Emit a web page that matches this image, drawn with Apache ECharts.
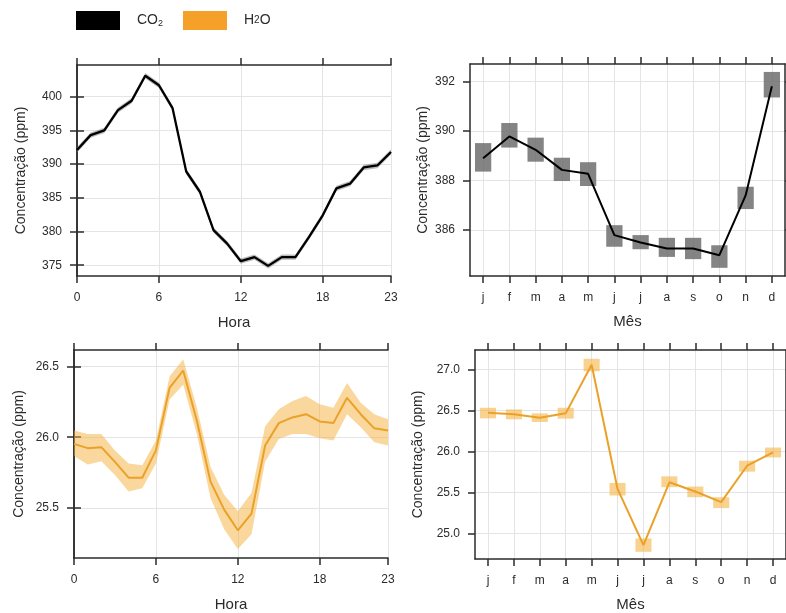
<!DOCTYPE html>
<html>
<head>
<meta charset="utf-8">
<script src="https://cdn.jsdelivr.net/npm/echarts@6/dist/echarts.min.js"></script>
<style>
html,body{margin:0;padding:0;background:#fff;}
#chart{width:786px;height:613px;}
</style>
</head>
<body>
<div id="chart"></div>
<script>
// ---------- data ----------
const hours = [0,1,2,3,4,5,6,7,8,9,10,11,12,13,14,15,16,17,18,19,20,21,22,23];
const hourTicks = [0,6,12,18,23];
const months = ['j','f','m','a','m','j','j','a','s','o','n','d'];

const co2Hour = [392.1,394.3,395.0,398.0,399.4,403.1,401.7,398.3,388.9,385.9,380.2,378.2,375.6,376.2,374.9,376.2,376.2,379.2,382.4,386.4,387.1,389.5,389.8,391.8];
const co2HourLower = [391.7,393.9,394.6,397.6,399.0,402.7,401.3,397.9,388.5,385.5,379.8,377.8,375.2,375.8,374.5,375.8,375.8,378.8,382.0,386.0,386.7,389.1,389.4,391.4];
const co2HourUpper = [392.5,394.7,395.4,398.4,399.8,403.5,402.1,398.7,389.3,386.3,380.6,378.6,376.0,376.6,375.3,376.6,376.6,379.6,382.8,386.8,387.5,389.9,390.2,392.2];
const co2HourTicks = [375,380,385,390,395,400];

const co2Month = [388.9,389.78,389.24,388.43,388.27,385.8,385.5,385.26,385.26,384.99,387.4,391.8];
const co2MonthLower = [388.36,389.33,388.76,387.98,387.78,385.33,385.23,384.92,384.83,384.48,386.85,391.35];
const co2MonthUpper = [389.51,390.32,389.73,388.92,388.74,386.20,385.80,385.69,385.69,385.39,387.75,392.38];
const co2MonthTicks = [386,388,390,392];

const h2oHour = [25.953,25.923,25.93,25.826,25.714,25.714,25.907,26.349,26.472,26.116,25.686,25.488,25.342,25.46,25.942,26.1,26.14,26.163,26.112,26.1,26.279,26.163,26.063,26.047];
const h2oHourLower = [25.867,25.807,25.830,25.733,25.616,25.640,25.814,26.267,26.372,26.023,25.570,25.349,25.209,25.314,25.826,25.988,26.023,26.023,25.993,25.977,26.163,26.070,25.965,25.942];
const h2oHourUpper = [26.047,26.023,26.023,25.907,25.814,25.802,25.977,26.430,26.551,26.209,25.791,25.593,25.477,25.605,26.077,26.198,26.256,26.291,26.233,26.209,26.384,26.244,26.163,26.128];
const h2oHourTicks = [25.5,26.0,26.5];

const h2oMonth = [26.475,26.455,26.414,26.467,27.06,25.545,24.859,25.626,25.513,25.384,25.828,25.99];
const h2oMonthLower = [26.406,26.394,26.362,26.402,26.98,25.465,24.778,25.566,25.444,25.311,25.756,25.929];
const h2oMonthUpper = [26.535,26.515,26.467,26.535,27.133,25.618,24.94,25.699,25.574,25.444,25.889,26.05];
const h2oMonthTicks = [25.0,25.5,26.0,26.5,27.0];

// ---------- styles ----------
const DARK = '#2b2b2b';
const GRIDC = '#e2e4e8';
const ORANGE = '#EBA128';
const FONT = 'Liberation Sans, Arial, sans-serif';

const grids = [
  {left: 77, top: 65, width: 314, height: 211},
  {left: 470, top: 64, width: 315, height: 212},
  {left: 74, top: 350, width: 314, height: 211},
  {left: 475, top: 350, width: 312, height: 211}
];

const axisLineS = {show: true, lineStyle: {color: DARK, width: 1.5}};
const tickS = (vals) => { const t = {show: true, inside: false, length: 7, lineStyle: {color: DARK, width: 1.5}}; if (vals) t.customValues = vals; return t; };
const labelX = {color: DARK, fontSize: 12, fontFamily: FONT, margin: 16};
const labelY = {color: DARK, fontSize: 12, fontFamily: FONT, margin: 15};
const nameS = {color: DARK, fontSize: 14, fontFamily: FONT};

function hourX(gi) {
  return [
    {type: 'value', gridIndex: gi, min: 0, max: 23, interval: 6, position: 'bottom',
     name: 'Hora', nameLocation: 'middle', nameGap: 39, nameTextStyle: Object.assign({}, nameS, {fontSize: 15}),
     axisLine: axisLineS, axisTick: tickS(hourTicks),
     axisLabel: Object.assign({}, labelX, {customValues: hourTicks}),
     splitLine: {show: true, lineStyle: {color: GRIDC, width: 1}}},
    {type: 'value', gridIndex: gi, min: 0, max: 23, interval: 6, position: 'top',
     axisLine: axisLineS, axisTick: tickS(hourTicks), axisLabel: {show: false}, splitLine: {show: false}}
  ];
}
function monthX(gi) {
  return [
    {type: 'category', gridIndex: gi, data: months, boundaryGap: true, position: 'bottom',
     name: 'Mês', nameLocation: 'middle', nameGap: 38, nameTextStyle: Object.assign({}, nameS, {fontSize: 15}),
     axisLine: axisLineS, axisTick: Object.assign(tickS(), {alignWithLabel: true}),
     axisLabel: Object.assign({}, labelX, {interval: 0}),
     splitLine: {show: true, alignWithLabel: true, interval: 0, lineStyle: {color: GRIDC, width: 1}}},
    {type: 'category', gridIndex: gi, data: months, boundaryGap: true, position: 'top',
     axisLine: axisLineS, axisTick: Object.assign(tickS(), {alignWithLabel: true, interval: 0}), axisLabel: {show: false}, splitLine: {show: false}}
  ];
}
function yAx(gi, min, max, interval, ticks, dec, gap) {
  return [
    {type: 'value', gridIndex: gi, min: min, max: max, interval: interval, position: 'left',
     name: 'Concentração (ppm)', nameLocation: 'middle', nameGap: gap, nameTextStyle: nameS,
     axisLine: axisLineS, axisTick: tickS(ticks),
     axisLabel: Object.assign({}, labelY, {customValues: ticks, formatter: v => Number(v).toFixed(dec)}),
     splitLine: {show: true, lineStyle: {color: GRIDC, width: 1}}},
    {type: 'value', gridIndex: gi, min: min, max: max, interval: interval, position: 'right',
     axisLine: axisLineS, axisTick: tickS(ticks), axisLabel: {show: false}, splitLine: {show: false}}
  ];
}

const xAxes = [].concat(hourX(0), monthX(1), hourX(2), monthX(3));
const yAxes = [].concat(
  yAx(0, 373.4, 404.7, 5, co2HourTicks, 0, 49),
  yAx(1, 384.15, 392.7, 2, co2MonthTicks, 0, 40),
  yAx(2, 25.146, 26.617, 0.5, h2oHourTicks, 1, 48),
  yAx(3, 24.69, 27.24, 0.5, h2oMonthTicks, 1, 50)
);

// band drawn as one polygon through the axis scales
function bandSeries(key, xi, yi, lower, upper, color) {
  return {
    name: key, type: 'custom', xAxisIndex: xi, yAxisIndex: yi, silent: true, z: 1,
    data: hours.map((h, i) => [h, lower[i], upper[i]]),
    encode: {x: 0, y: [1, 2]},
    renderItem: function (params, api) {
      if (params.dataIndex !== 0) return null;
      const pts = [];
      for (let i = 0; i < hours.length; i++) pts.push(api.coord([hours[i], upper[i]]));
      for (let i = hours.length - 1; i >= 0; i--) pts.push(api.coord([hours[i], lower[i]]));
      return {type: 'polygon', shape: {points: pts}, style: {fill: color}};
    }
  };
}
function rectSeries(key, xi, yi, lower, upper, color) {
  return {
    name: key, type: 'custom', xAxisIndex: xi, yAxisIndex: yi, silent: true, z: 1,
    data: months.map((m, i) => [i, lower[i], upper[i]]),
    encode: {x: 0, y: [1, 2]},
    renderItem: function (params, api) {
      const x = api.value(0);
      const pTop = api.coord([x, api.value(2)]);
      const pBot = api.coord([x, api.value(1)]);
      const w = api.size([1, 0])[0] * 0.62;
      return {type: 'rect', shape: {x: pTop[0] - w / 2, y: pTop[1], width: w, height: pBot[1] - pTop[1]},
              style: {fill: color}};
    }
  };
}

const series = [
  bandSeries('co2b', 0, 0, co2HourLower, co2HourUpper, 'rgba(120,120,120,0.5)'),
  {name: 'CO2', type: 'line', xAxisIndex: 0, yAxisIndex: 0, symbol: 'none', z: 3,
   lineStyle: {color: '#000', width: 2.3}, itemStyle: {color: '#000'},
   data: hours.map((h, i) => [h, co2Hour[i]])},
  rectSeries('co2r', 2, 2, co2MonthLower, co2MonthUpper, 'rgba(110,110,110,0.85)'),
  {name: 'co2m', type: 'line', xAxisIndex: 2, yAxisIndex: 2, symbol: 'none', z: 3,
   lineStyle: {color: '#000', width: 2}, data: co2Month},
  bandSeries('h2ob', 4, 4, h2oHourLower, h2oHourUpper, 'rgba(246,178,60,0.5)'),
  {name: 'H2O', type: 'line', xAxisIndex: 4, yAxisIndex: 4, symbol: 'none', z: 3,
   lineStyle: {color: ORANGE, width: 2}, itemStyle: {color: ORANGE},
   data: hours.map((h, i) => [h, h2oHour[i]])},
  rectSeries('h2or', 6, 6, h2oMonthLower, h2oMonthUpper, 'rgba(247,180,70,0.6)'),
  {name: 'h2om', type: 'line', xAxisIndex: 6, yAxisIndex: 6, symbol: 'none', z: 3,
   lineStyle: {color: ORANGE, width: 2}, data: h2oMonth}
];

const chart = echarts.init(document.getElementById('chart'), null, {renderer: 'canvas'});
chart.setOption({
  backgroundColor: '#ffffff',
  animation: false,
  textStyle: {fontFamily: FONT},
  legend: {
    left: 71, top: 6, orient: 'horizontal', icon: 'rect', itemWidth: 44, itemHeight: 19, itemGap: 20,
    selectedMode: false,
    data: [{name: 'CO2', itemStyle: {color: '#000'}}, {name: 'H2O', itemStyle: {color: '#F5A028'}}],
    formatter: n => n === 'CO2' ? 'CO{sub|2}' : 'H{sm|2}O',
    textStyle: {color: DARK, fontSize: 14, fontFamily: FONT, padding: [0, 0, 0, 12],
      rich: {sub: {fontSize: 9, color: DARK, fontFamily: FONT, padding: [7, 0, 0, 0]},
             sm: {fontSize: 10, color: DARK, fontFamily: FONT}}}
  },
  grid: grids,
  xAxis: xAxes,
  yAxis: yAxes,
  series: series
});
</script>
</body>
</html>
